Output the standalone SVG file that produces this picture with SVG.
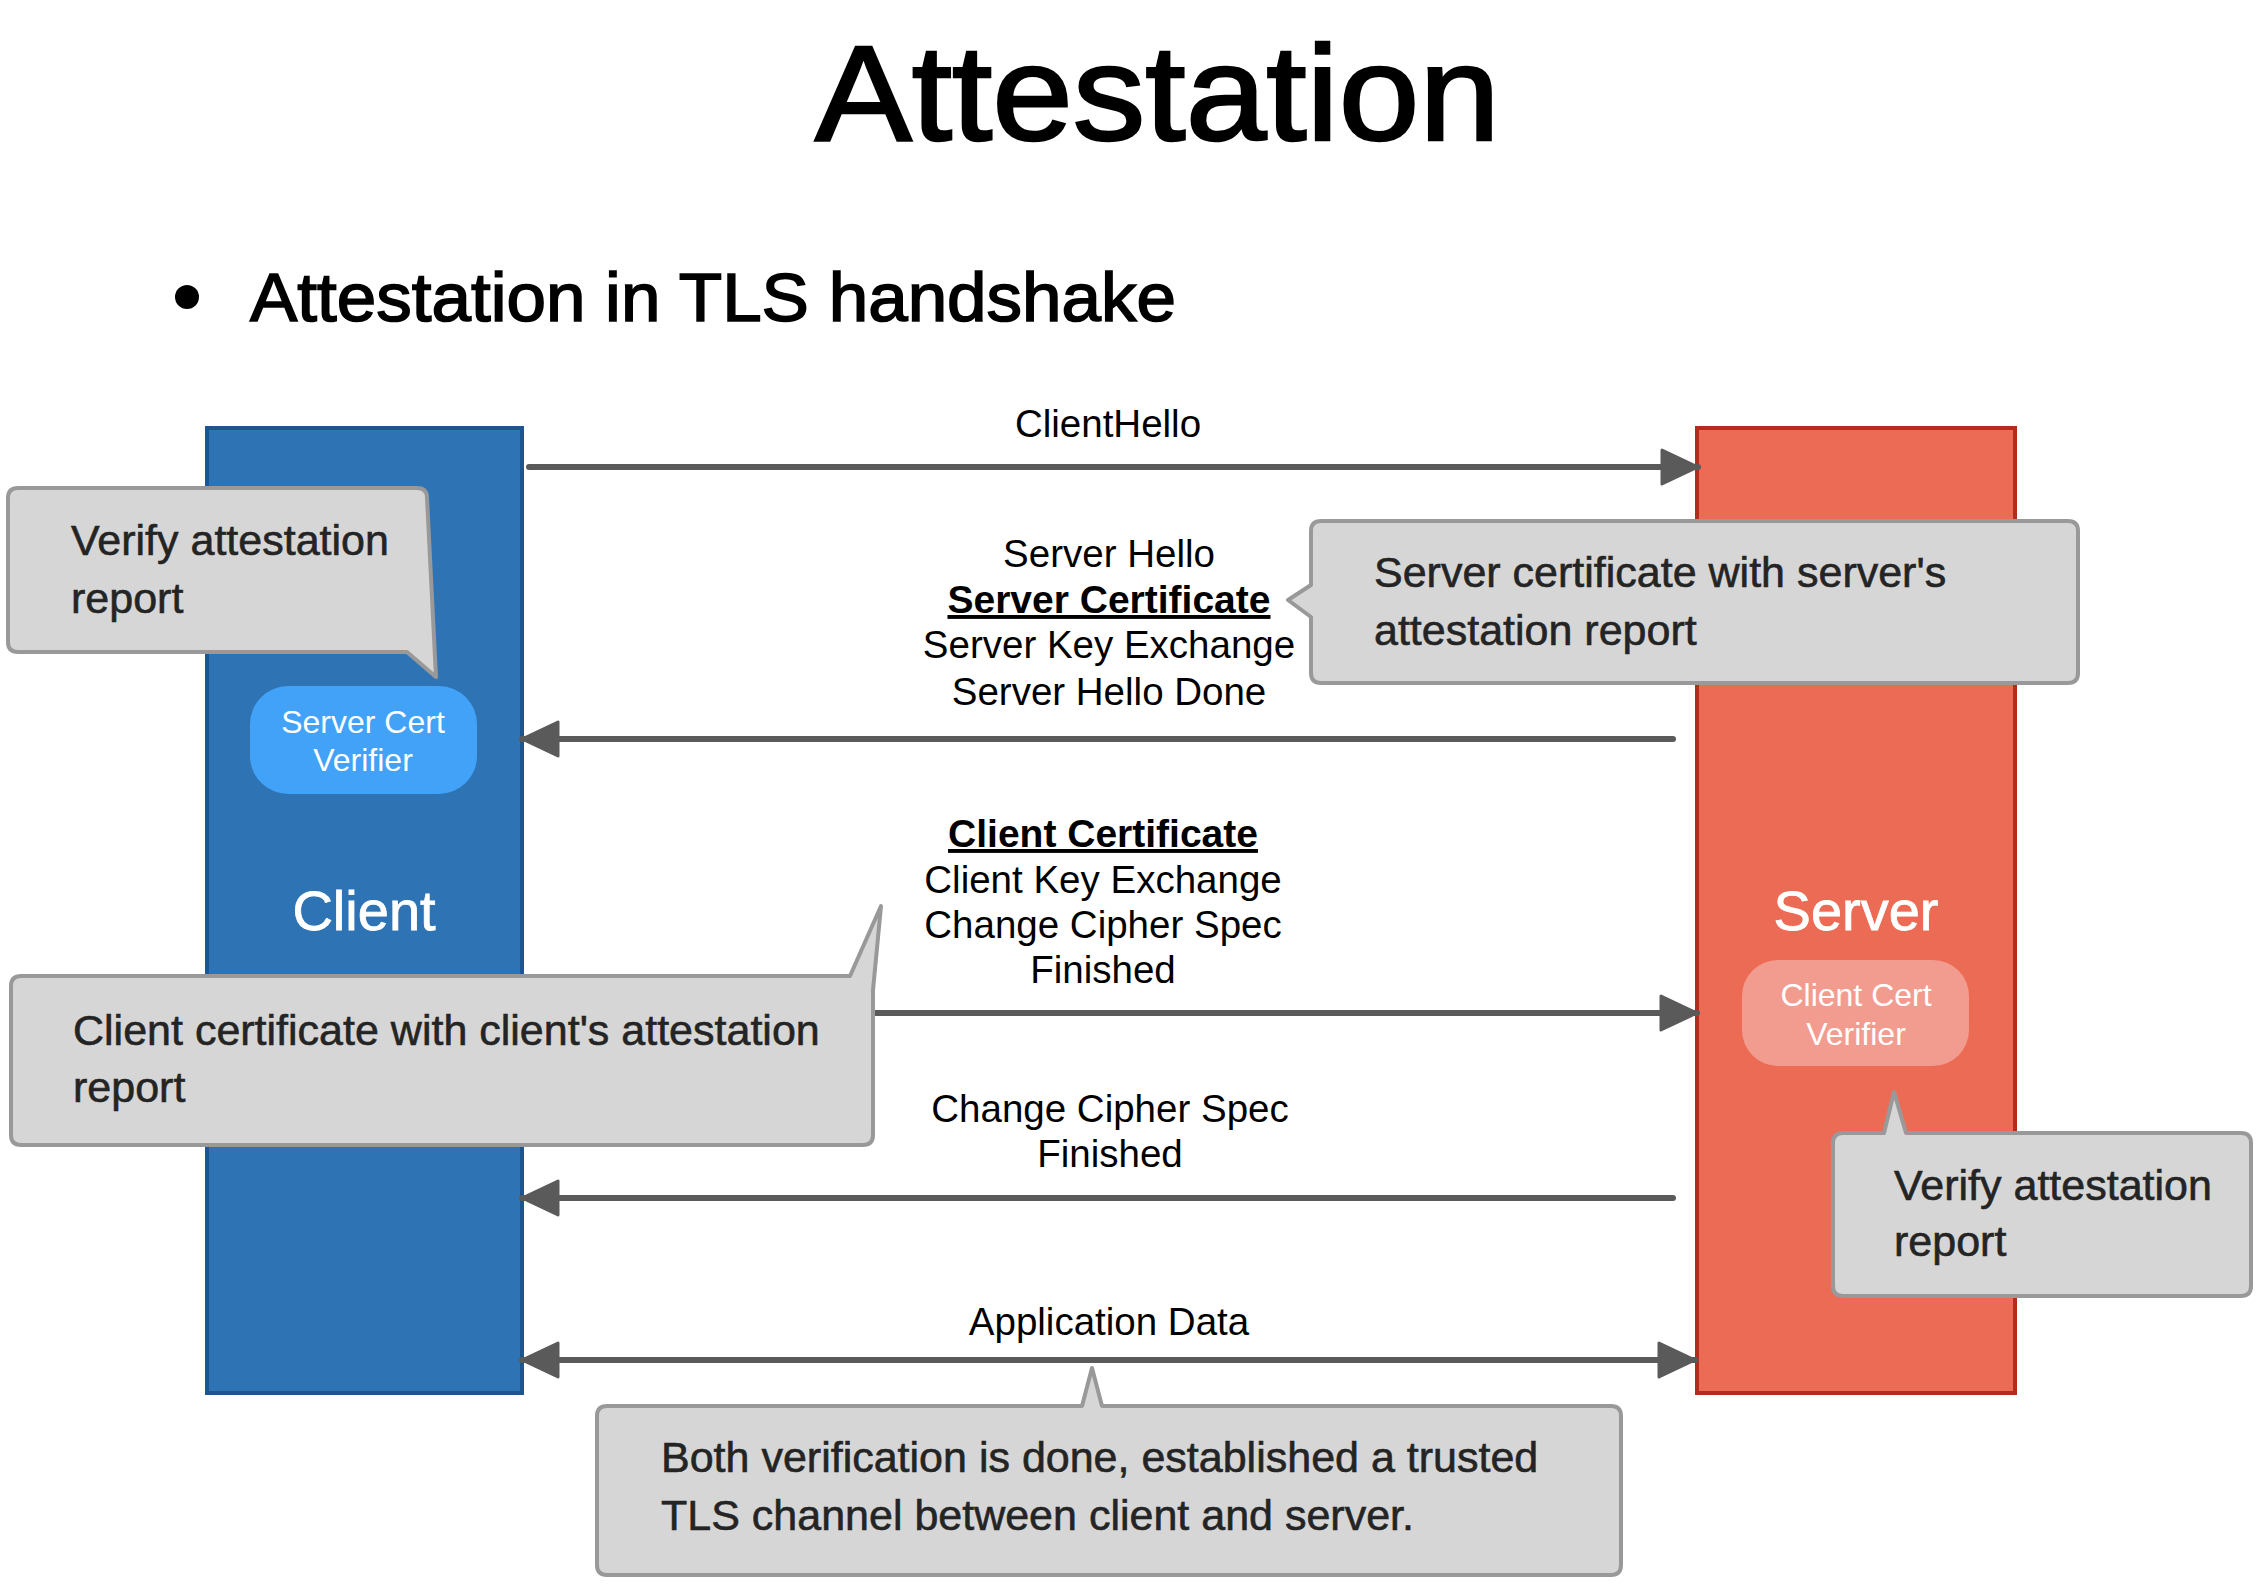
<svg xmlns="http://www.w3.org/2000/svg" width="2262" height="1588" viewBox="0 0 2262 1588">
<defs>
<style>
.sans{font-family:"Liberation Sans",Arial,Helvetica,sans-serif}
.lbl{font-family:"Liberation Sans",Arial,Helvetica,sans-serif;font-size:38.5px;fill:#000;text-anchor:middle}
.lblb{font-weight:bold;text-decoration:underline;font-size:39px}
.call{fill:#d6d6d6;stroke:#999;stroke-width:4;stroke-linejoin:round}
.ctext{font-family:"Liberation Sans",Arial,Helvetica,sans-serif;font-size:43px;fill:#242424;stroke:#242424;stroke-width:0.6}
.conn{fill:none;stroke:#5a5a5a;stroke-width:6;stroke-linecap:round}
.vtext{font-family:"Liberation Sans",Arial,Helvetica,sans-serif;font-size:32px;fill:#fff;text-anchor:middle}
.ptext{font-family:"Liberation Sans",Arial,Helvetica,sans-serif;font-size:56px;fill:#fff;text-anchor:middle;stroke:#fff;stroke-width:0.8}
</style>
<marker id="ah" markerUnits="userSpaceOnUse" markerWidth="44" markerHeight="44" viewBox="-2 -2 44 44" refX="37" refY="19" orient="auto-start-reverse">
<path d="M1,2 L37,19 L1,36 Z" fill="#5a5a5a" stroke="#5a5a5a" stroke-width="3" stroke-linejoin="round"/>
</marker>
</defs>
<rect width="2262" height="1588" fill="#fff"/>

<g id="title">
<text class="sans" x="815" y="140" font-size="135" textLength="685" lengthAdjust="spacingAndGlyphs" fill="#000" stroke="#000" stroke-width="2.5">Attestation</text>
</g>
<g id="bullet">
<circle cx="187" cy="297" r="12" fill="#000"/>
<text class="sans" x="250" y="321" font-size="68" textLength="926" lengthAdjust="spacingAndGlyphs" fill="#000" stroke="#000" stroke-width="1.6">Attestation in TLS handshake</text>
</g>

<g id="client">
<rect x="207" y="428" width="315" height="965" fill="#2e74b5" stroke="#1d5590" stroke-width="4"/>
<text class="ptext" x="364" y="930">Client</text>
</g>
<g id="server-cert-verifier">
<rect x="250" y="686" width="227" height="108" rx="38" fill="#42a2f7"/>
<text class="vtext" x="363" y="733">Server Cert</text>
<text class="vtext" x="363" y="771">Verifier</text>
</g>

<g id="server">
<rect x="1697" y="428" width="318" height="965" fill="#ec6b55" stroke="#b42d1c" stroke-width="4"/>
<text class="ptext" x="1856" y="930">Server</text>
</g>
<g id="client-cert-verifier">
<rect x="1742" y="960" width="227" height="106" rx="36" fill="#f29c90"/>
<text class="vtext" x="1856" y="1006" font-size="33">Client Cert</text>
<text class="vtext" x="1856" y="1045" font-size="33">Verifier</text>
</g>

<g id="connectors">
<path class="conn" d="M529,467 H1698" marker-end="url(#ah)"/>
<path class="conn" d="M1673,739 H522" marker-end="url(#ah)"/>
<path class="conn" d="M529,1013 H1697" marker-end="url(#ah)"/>
<path class="conn" d="M1673,1198 H522" marker-end="url(#ah)"/>
<path class="conn" d="M522,1360 H1695" marker-start="url(#ah)" marker-end="url(#ah)"/>
</g>

<g id="labels">
<text class="lbl" x="1108" y="437">ClientHello</text>
<text class="lbl" x="1109" y="567">Server Hello</text>
<text class="lbl lblb" x="1109" y="613">Server Certificate</text>
<text class="lbl" x="1109" y="658">Server Key Exchange</text>
<text class="lbl" x="1109" y="705">Server Hello Done</text>
<text class="lbl lblb" x="1103" y="847">Client Certificate</text>
<text class="lbl" x="1103" y="893">Client Key Exchange</text>
<text class="lbl" x="1103" y="938">Change Cipher Spec</text>
<text class="lbl" x="1103" y="983">Finished</text>
<text class="lbl" x="1110" y="1122">Change Cipher Spec</text>
<text class="lbl" x="1110" y="1167">Finished</text>
<text class="lbl" x="1109" y="1335">Application Data</text>
</g>

<g id="callout-client-verify">
<path class="call" d="M18,488 H417 Q427,488 427,498 L436,677 L407,652 H18 Q8,652 8,642 V498 Q8,488 18,488 Z"/>
<text class="ctext" x="71" y="555">Verify attestation</text>
<text class="ctext" x="71" y="613">report</text>
</g>

<g id="callout-server-cert">
<path class="call" d="M1321,521 H2068 Q2078,521 2078,531 V673 Q2078,683 2068,683 H1321 Q1311,683 1311,673 V617 L1288,600 L1311,585 V531 Q1311,521 1321,521 Z"/>
<text class="ctext" x="1374" y="587">Server certificate with server's</text>
<text class="ctext" x="1374" y="645">attestation report</text>
</g>

<g id="callout-client-cert">
<path class="call" d="M21,976 H850 L881,906 L873,990 V1135 Q873,1145 863,1145 H21 Q11,1145 11,1135 V986 Q11,976 21,976 Z"/>
<text class="ctext" x="73" y="1045">Client certificate with client's attestation</text>
<text class="ctext" x="73" y="1102">report</text>
</g>

<g id="callout-server-verify">
<path class="call" d="M1843,1133 H1884 L1894,1092 L1906,1133 H2241 Q2251,1133 2251,1143 V1286 Q2251,1296 2241,1296 H1843 Q1833,1296 1833,1286 V1143 Q1833,1133 1843,1133 Z"/>
<text class="ctext" x="1894" y="1200">Verify attestation</text>
<text class="ctext" x="1894" y="1256">report</text>
</g>

<g id="callout-both">
<path class="call" d="M607,1406 H1082 L1092,1368 L1102,1406 H1611 Q1621,1406 1621,1416 V1565 Q1621,1575 1611,1575 H607 Q597,1575 597,1565 V1416 Q597,1406 607,1406 Z"/>
<text class="ctext" x="661" y="1472">Both verification is done, established a trusted</text>
<text class="ctext" x="661" y="1530">TLS channel between client and server.</text>
</g>
</svg>
